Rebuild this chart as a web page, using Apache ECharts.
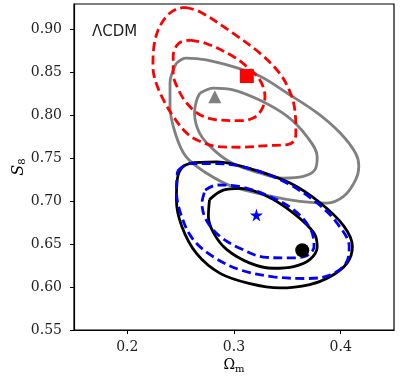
<!DOCTYPE html>
<html>
<head>
<meta charset="utf-8">
<script src="https://cdn.jsdelivr.net/npm/echarts@6/dist/echarts.min.js"></script>
<style>
  html, body { margin: 0; padding: 0; background: #fff; }
  #chart { width: 415px; height: 388px; }
</style>
</head>
<body>
<div id="chart"></div>
<script>
// tick labels
const xTicks = [0.2, 0.3, 0.4]
const yTicks = [0.55, 0.6, 0.65, 0.7, 0.75, 0.8, 0.85, 0.9]

// contours, [Omega_m, S8]
const redOuter = [[0.254, 0.926], [0.268, 0.921], [0.299, 0.896], [0.324, 0.873], [0.343, 0.849], [0.353, 0.826], [0.357, 0.807], [0.358, 0.779], [0.356, 0.770], [0.350, 0.766], [0.331, 0.765], [0.306, 0.763], [0.284, 0.764], [0.268, 0.770], [0.256, 0.779], [0.243, 0.799], [0.234, 0.818], [0.227, 0.838], [0.224, 0.857], [0.225, 0.881], [0.229, 0.900], [0.237, 0.916], [0.246, 0.924], [0.254, 0.926]]
const redInner = [[0.259, 0.888], [0.274, 0.884], [0.299, 0.869], [0.312, 0.857], [0.324, 0.842], [0.329, 0.822], [0.326, 0.807], [0.318, 0.797], [0.306, 0.794], [0.284, 0.795], [0.268, 0.801], [0.256, 0.814], [0.248, 0.830], [0.243, 0.849], [0.243, 0.869], [0.248, 0.884], [0.259, 0.888]]
const grayOuter = [[0.246, 0.861], [0.255, 0.867], [0.274, 0.865], [0.299, 0.857], [0.324, 0.846], [0.350, 0.826], [0.378, 0.803], [0.400, 0.779], [0.414, 0.756], [0.417, 0.741], [0.414, 0.725], [0.403, 0.706], [0.387, 0.698], [0.362, 0.700], [0.331, 0.707], [0.299, 0.717], [0.274, 0.733], [0.255, 0.752], [0.245, 0.779], [0.240, 0.811], [0.240, 0.838], [0.246, 0.861]]
const grayInner = [[0.268, 0.826], [0.281, 0.832], [0.299, 0.830], [0.324, 0.818], [0.350, 0.799], [0.368, 0.776], [0.378, 0.752], [0.376, 0.737], [0.365, 0.729], [0.346, 0.727], [0.324, 0.733], [0.299, 0.744], [0.281, 0.760], [0.268, 0.779], [0.263, 0.803], [0.265, 0.818], [0.268, 0.826]]
const blackOuter = [[0.262, 0.745], [0.284, 0.746], [0.318, 0.737], [0.353, 0.721], [0.381, 0.698], [0.403, 0.671], [0.411, 0.647], [0.406, 0.628], [0.390, 0.612], [0.371, 0.603], [0.343, 0.599], [0.315, 0.604], [0.287, 0.616], [0.265, 0.639], [0.251, 0.671], [0.246, 0.702], [0.247, 0.727], [0.252, 0.740], [0.262, 0.745]]
const blackInner = [[0.277, 0.702], [0.290, 0.713], [0.306, 0.715], [0.331, 0.706], [0.356, 0.686], [0.375, 0.663], [0.378, 0.647], [0.371, 0.632], [0.356, 0.624], [0.337, 0.622], [0.315, 0.628], [0.293, 0.644], [0.281, 0.663], [0.276, 0.682], [0.277, 0.702]]
const blueOuter = [[0.247, 0.735], [0.258, 0.744], [0.284, 0.744], [0.318, 0.737], [0.350, 0.721], [0.378, 0.698], [0.397, 0.674], [0.408, 0.647], [0.405, 0.628], [0.390, 0.614], [0.368, 0.610], [0.337, 0.612], [0.306, 0.620], [0.281, 0.635], [0.262, 0.655], [0.251, 0.682], [0.246, 0.713], [0.247, 0.735]]
const blueInner = [[0.273, 0.713], [0.284, 0.719], [0.306, 0.717], [0.331, 0.707], [0.356, 0.690], [0.372, 0.667], [0.375, 0.647], [0.367, 0.636], [0.350, 0.634], [0.328, 0.635], [0.306, 0.645], [0.287, 0.659], [0.274, 0.678], [0.270, 0.698], [0.273, 0.713]]

// best-fit points
const redPoint = [[0.312, 0.846]]
const grayPoint = [[0.282, 0.822]]
const bluePoint = [[0.321, 0.684]]
const blackPoint = [[0.364, 0.643]]

const starPath = 'path://M50,0 L61,35 L98,35 L68,57 L79,91 L50,70 L21,91 L32,57 L2,35 L39,35 Z'
const serif = 'DejaVu Serif'

function contour(data, color, dashed) {
  return {
    type: 'line',
    data: data,
    smooth: 0.35,
    symbol: 'none',
    silent: true,
    lineStyle: { color: color, width: 2.8, type: dashed ? [9, 4.5] : 'solid' }
  }
}

function marker(data, color, symbol, size) {
  return {
    type: 'scatter',
    data: data,
    symbol: symbol,
    symbolSize: size,
    itemStyle: { color: color, opacity: 1 },
    z: 5
  }
}

const chart = echarts.init(document.getElementById('chart'))
const option = {
  animation: false,
  grid: {
    left: 74, right: 21, top: 4, bottom: 58,
    outerBoundsMode: 'none',
    show: true, borderColor: '#000', borderWidth: 1.2
  },
  xAxis: {
    type: 'value',
    min: 0.15,
    max: 0.45,
    name: '{a|Ω}{b|m}',
    nameLocation: 'middle',
    nameGap: 27,
    nameMoveOverlap: false,
    nameTextStyle: {
      rich: {
        a: { fontFamily: serif, fontSize: 14, color: '#000' },
        b: { fontFamily: serif, fontSize: 10, color: '#000', padding: [7, 0, 0, 0] }
      }
    },
    axisLine: { lineStyle: { color: '#000', width: 1.2 } },
    axisTick: { length: 4, lineStyle: { color: '#000', width: 1 }, customValues: xTicks },
    axisLabel: { fontFamily: serif, fontSize: 14, color: '#222', margin: 10, customValues: xTicks, formatter: v => v.toFixed(1) },
    splitLine: { show: false }
  },
  yAxis: {
    type: 'value',
    min: 0.55,
    max: 0.93,
    name: '{a|S}{b|8}',
    nameLocation: 'middle',
    nameRotate: 90,
    nameGap: 47,
    nameMoveOverlap: false,
    nameTextStyle: {
      rich: {
        a: { fontFamily: serif, fontSize: 16, fontStyle: 'italic', color: '#000' },
        b: { fontFamily: serif, fontSize: 10, color: '#000', padding: [7, 0, 0, 0] }
      }
    },
    axisLine: { show: true, lineStyle: { color: '#000', width: 1.2 } },
    axisTick: { show: true, length: 4, lineStyle: { color: '#000', width: 1 }, customValues: yTicks },
    axisLabel: { fontFamily: serif, fontSize: 14, color: '#222', margin: 12, customValues: yTicks, formatter: v => v.toFixed(2) },
    splitLine: { show: false }
  },
  graphic: [{
    type: 'text',
    left: 92,
    top: 25,
    style: { text: 'ΛCDM', font: '15px "DejaVu Sans"', fill: '#222' }
  }],
  series: [
    contour(grayOuter, '#808080', false),
    contour(grayInner, '#808080', false),
    contour(redOuter, '#ff0000', true),
    contour(redInner, '#ff0000', true),
    contour(blackOuter, '#000000', false),
    contour(blackInner, '#000000', false),
    contour(blueOuter, '#0000ff', true),
    contour(blueInner, '#0000ff', true),
    marker(redPoint, '#ff0000', 'rect', 14),
    marker(grayPoint, '#808080', 'triangle', 13),
    marker(bluePoint, '#0000ff', starPath, 13),
    marker(blackPoint, '#000000', 'circle', 14)
  ]
}
chart.setOption(option)
</script>
</body>
</html>
